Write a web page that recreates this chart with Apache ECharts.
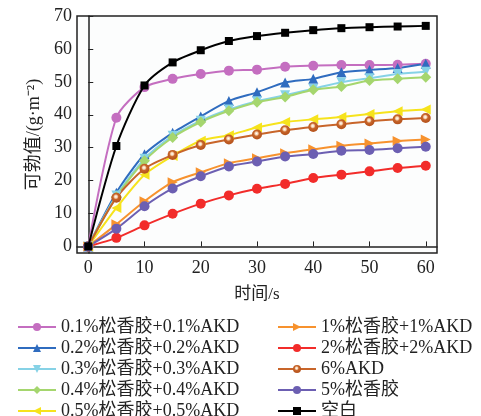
<!DOCTYPE html>
<html>
<head>
<meta charset="utf-8">
<script src="https://cdn.jsdelivr.net/npm/echarts@6/dist/echarts.min.js"></script>
<style>
  html, body { margin: 0; padding: 0; background: #fff; }
  #chart { width: 481px; height: 416px; }
</style>
</head>
<body>
<div id="chart"></div>
<script>
// 时间 (s)
const times = [0, 5, 10, 15, 20, 25, 30, 35, 40, 45, 50, 55, 60]
const xTicks = [0, 10, 20, 30, 40, 50, 60]
const yTicks = [0, 10, 20, 30, 40, 50, 60, 70]

// 可勃值 (g·m⁻²)
const rosin01 = [0, 39.1, 48.4, 50.9, 52.4, 53.4, 53.7, 54.6, 54.9, 55.1, 55.1, 55.2, 55.5]
const rosin02 = [0, 16.3, 28.0, 34.5, 39.5, 44.2, 46.8, 49.8, 50.9, 52.9, 53.6, 54.2, 55.5]
const rosin03 = [0, 15.5, 26.6, 33.6, 38.2, 41.6, 44.1, 45.9, 47.9, 49.9, 51.1, 52.4, 53.1]
const rosin04 = [0, 15.0, 26.0, 33.1, 37.8, 41.2, 43.8, 45.4, 47.6, 48.6, 50.4, 50.9, 51.4]
const rosin05 = [0, 11.7, 21.8, 27.5, 32.1, 33.8, 36.1, 37.8, 38.6, 39.3, 40.2, 41.1, 41.6]
const rosin1 = [0, 6.7, 13.7, 19.5, 22.5, 25.3, 26.8, 28.3, 29.5, 30.6, 31.3, 32.0, 32.5]
const rosin2 = [0, 2.6, 6.4, 9.9, 13.0, 15.5, 17.5, 19.0, 20.8, 21.8, 22.8, 23.8, 24.5]
const akd6 = [0, 14.8, 23.6, 27.8, 30.8, 32.5, 34.0, 35.3, 36.3, 37.1, 38.0, 38.6, 39.0]
const rosin5 = [0, 5.4, 12.2, 17.6, 21.3, 24.3, 25.8, 27.3, 28.1, 29.1, 29.3, 29.8, 30.3]
const blank = [0, 30.5, 48.9, 55.9, 59.6, 62.4, 63.9, 64.9, 65.7, 66.3, 66.6, 66.8, 67.0]

const names = [
  '0.1%松香胶+0.1%AKD', '0.2%松香胶+0.2%AKD', '0.3%松香胶+0.3%AKD',
  '0.4%松香胶+0.4%AKD', '0.5%松香胶+0.5%AKD',
  '1%松香胶+1%AKD', '2%松香胶+2%AKD', '6%AKD', '5%松香胶', '空白'
]

const fontFamily = "'Liberation Serif', 'Noto Sans CJK SC', serif"

function pair(arr) {
  return arr.map((v, i) => [times[i], v])
}

function line(name, data, color, symbol, opts) {
  opts = opts || {}
  return {
    name: name,
    type: 'line',
    smooth: 0.25,
    data: pair(data),
    symbol: symbol,
    symbolSize: opts.size || 9,
    symbolRotate: opts.rotate || 0,
    lineStyle: { color: color, width: 2 },
    itemStyle: { color: opts.fill || color, borderColor: color, borderWidth: opts.border || 0 },
    z: opts.z || 2
  }
}

const chart = echarts.init(document.getElementById('chart'))

// 6%AKD 的点是带白色高光的圆
const akdFill = {
  type: 'radial', x: 0.45, y: 0.4, r: 0.5,
  colorStops: [
    { offset: 0, color: '#ffffff' },
    { offset: 0.3, color: '#f6d2b0' },
    { offset: 0.55, color: '#c8652a' },
    { offset: 1, color: '#b8561f' }
  ]
}

const legendBase = {
  orient: 'vertical',
  top: 313,
  height: 120,
  itemWidth: 38,
  itemHeight: 10,
  itemGap: 3,
  textStyle: { fontSize: 18, color: '#222', fontFamily: fontFamily, lineHeight: 17 }
}

chart.setOption({
  backgroundColor: '#fff',
  animation: false,
  textStyle: { fontFamily: fontFamily },
  grid: {
    left: 77,
    right: 44,
    top: 16,
    bottom: 163,
    show: true,
    borderColor: '#222',
    borderWidth: 1.5,
    backgroundColor: '#fcfdfd'
  },
  legend: [
    Object.assign({}, legendBase, { data: names.slice(0, 5), left: 12 }),
    Object.assign({}, legendBase, { data: names.slice(5), left: 272 })
  ],
  xAxis: {
    type: 'value',
    min: -2,
    max: 62,
    name: '时间/s',
    nameLocation: 'middle',
    nameGap: 33,
    nameTextStyle: { fontSize: 17, color: '#222', fontFamily: fontFamily },
    axisLine: { show: true, lineStyle: { color: '#222', width: 1.5 } },
    axisTick: { show: true, inside: true, length: 5, customValues: xTicks, lineStyle: { color: '#222' } },
    axisLabel: { customValues: xTicks, fontSize: 18, color: '#222', margin: 6, fontFamily: fontFamily },
    splitLine: { show: false }
  },
  yAxis: {
    type: 'value',
    min: -2,
    max: 70,
    name: '可勃值/(g·m⁻²)',
    nameLocation: 'middle',
    nameRotate: 90,
    nameGap: 32,
    nameTextStyle: { fontSize: 18, color: '#222', fontFamily: fontFamily },
    axisLine: { show: true, lineStyle: { color: '#222', width: 1.5 } },
    axisTick: { show: true, inside: true, length: 5, customValues: yTicks, lineStyle: { color: '#222' } },
    axisLabel: { customValues: yTicks, fontSize: 18, color: '#222', margin: 5, fontFamily: fontFamily },
    splitLine: { show: false }
  },
  series: [
    line(names[0], rosin01, '#c46ec0', 'circle', { size: 10 }),
    line(names[1], rosin02, '#2f6cbf', 'triangle', { size: 10 }),
    line(names[2], rosin03, '#86d2e6', 'triangle', { size: 10, rotate: 180 }),
    line(names[3], rosin04, '#a5d66e', 'diamond', { size: 11 }),
    line(names[4], rosin05, '#f6e31c', 'triangle', { size: 10, rotate: 90 }),
    line(names[5], rosin1, '#f7922e', 'triangle', { size: 10, rotate: -90 }),
    line(names[6], rosin2, '#f22c2a', 'circle', { size: 10 }),
    line(names[7], akd6, '#c8652a', 'circle', { size: 10, fill: akdFill, border: 0 }),
    line(names[8], rosin5, '#6c5fb2', 'circle', { size: 10 }),
    line(names[9], blank, '#000000', 'rect', { size: 8, z: 3 })
  ]
})
</script>
</body>
</html>
